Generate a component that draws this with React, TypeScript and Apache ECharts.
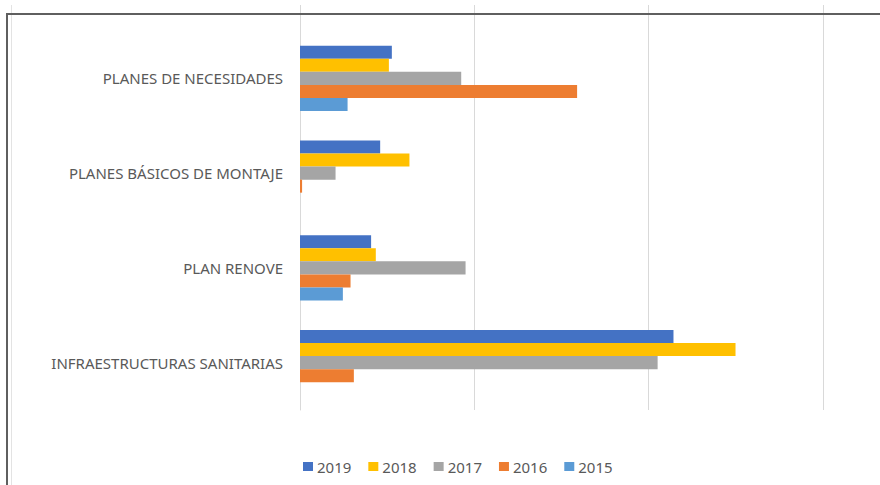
import React, { useEffect, useRef } from "react";
import * as echarts from "echarts";

const categories = [
  "PLANES DE NECESIDADES",
  "PLANES BÁSICOS DE MONTAJE",
  "PLAN RENOVE",
  "INFRAESTRUCTURAS SANITARIAS",
];
const seriesNames = ["2019", "2018", "2017", "2016", "2015"];
const values2019 = [52.7, 46.0, 40.8, 214.3];
const values2018 = [51.0, 62.8, 43.5, 249.9];
const values2017 = [92.5, 20.4, 95.0, 205.2];
const values2016 = [159.0, 1.2, 29.0, 30.9];
const values2015 = [27.3, 0, 24.6, 0];
const seriesValues = [values2019, values2018, values2017, values2016, values2015];
const colors = ["#4472C4", "#FFC000", "#A5A5A5", "#ED7D31", "#5B9BD5"];

const FONT = "'Noto Sans', 'Liberation Sans', sans-serif";
const X_MAX = 332.8;

export default function App() {
  const ref = useRef<HTMLDivElement>(null);
  useEffect(() => {
    if (!ref.current) return;
    const chart = echarts.init(ref.current, undefined, { renderer: "svg" });
    const xCommon = {
      type: "value" as const,
      min: 0,
      max: X_MAX,
      interval: 100,
      axisLabel: { show: false },
      axisLine: { show: false },
      axisTick: { show: false },
      splitLine: {
        show: true,
        showMaxLine: false,
        lineStyle: { color: "#d9d9d9", width: 1 },
      },
    };
    chart.setOption({
      animation: false,
      backgroundColor: "#ffffff",
      color: colors,
      textStyle: { fontFamily: FONT },
      grid: [
        { left: 300, top: 31, right: 0, height: 379 },
        { left: 300, top: 5, right: 0, height: 26 },
      ],
      xAxis: [
        { ...xCommon, gridIndex: 0 },
        { ...xCommon, gridIndex: 1 },
      ],
      yAxis: [
        {
          type: "category",
          gridIndex: 0,
          data: categories,
          inverse: true,
          axisLine: { show: true, lineStyle: { color: "#d9d9d9" } },
          axisTick: { show: false },
          axisLabel: {
            color: "#595959",
            fontSize: 15,
            fontFamily: FONT,
            margin: 17,
            padding: [0, 0, 2, 0],
          },
        },
        { type: "category", gridIndex: 1, show: false, data: [""] },
      ],
      legend: {
        data: seriesNames,
        left: 303,
        top: 459,
        padding: 0,
        icon: "rect",
        itemWidth: 10,
        itemHeight: 9,
        itemGap: 17,
        textStyle: {
          color: "#595959",
          fontSize: 15,
          fontFamily: FONT,
          padding: [0, 0, 0, -1],
        },
      },
      series: seriesNames.map((name, i) => ({
        name,
        type: "bar",
        xAxisIndex: 0,
        yAxisIndex: 0,
        data: seriesValues[i],
        barGap: "0%",
        barCategoryGap: "31.3%",
        itemStyle: { color: colors[i] },
      })),
      graphic: [
        {
          type: "line",
          shape: { x1: 11.5, y1: 5, x2: 11.5, y2: 485 },
          style: { stroke: "#e3e3e3", lineWidth: 1 },
          z: 100,
        },
        {
          type: "line",
          shape: { x1: 7, y1: 14, x2: 880, y2: 14 },
          style: { stroke: "#5f5f5f", lineWidth: 2 },
          z: 101,
        },
        {
          type: "line",
          shape: { x1: 7, y1: 13, x2: 7, y2: 485 },
          style: { stroke: "#5f5f5f", lineWidth: 2 },
          z: 101,
        },
      ],
    });
    return () => chart.dispose();
  }, []);
  return (
    <div
      ref={ref}
      style={{ position: "fixed", left: 0, top: 0, width: 880, height: 485 }}
    />
  );
}
